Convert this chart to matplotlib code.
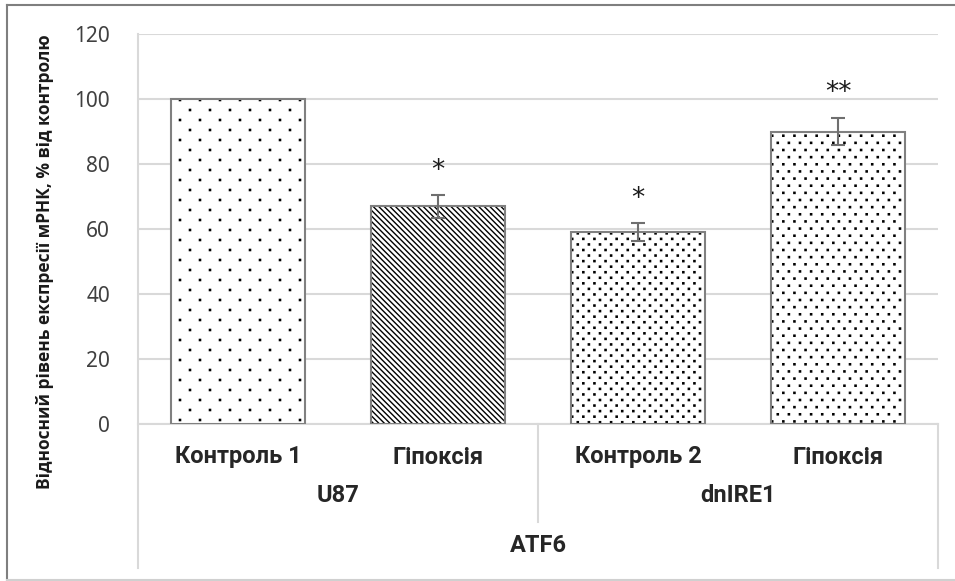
import warnings
warnings.filterwarnings("ignore")
import matplotlib
matplotlib.use("Agg")
import matplotlib.pyplot as plt
from matplotlib import hatch as mhatch
from matplotlib.path import Path
import matplotlib.transforms as mtransforms
import numpy as np

categories = ["Контроль 1", "Гіпоксія", "Контроль 2", "Гіпоксія"]
groups = ["U87", "dnIRE1"]
outer_label = "ATF6"
values = [100, 67, 59, 90]
errors = [0, 3.5, 2.8, 4.3]
stars = ["", "*", "*", "**"]
hatches = ["a", "\\" * 6, "b", "c"]
ylabel = "Відносний рівень експресії мРНК, % від контролю"
yticks = [0, 20, 40, 60, 80, 100, 120]

# custom dotted hatch patterns (columns per unit, rows per unit), Excel-like
DOT_SPECS = {'a': (5, 10), 'b': (9, 18), 'c': (9, 14)}


class LatticeDots(mhatch.HatchPatternBase):
    def __init__(self, hatch, density):
        spec = None
        for ch, sp in DOT_SPECS.items():
            if ch in hatch:
                spec = sp
        self.centers = []
        if spec is not None:
            c, r = spec
            for i in range(r + 1):
                y = i / r
                if i % 2 == 0:
                    xs = [j / c for j in range(c + 1)]
                else:
                    xs = [(j + 0.5) / c for j in range(c)]
                self.centers += [(xx, y) for xx in xs]
        self.num_vertices = len(self.centers) * 5

    def set_vertices_and_codes(self, vertices, codes):
        s = 0.006
        sq = np.array([[-s, -s], [s, -s], [s, s], [-s, s], [-s, -s]])
        k = 0
        for (cx, cy) in self.centers:
            vertices[k:k + 5] = sq + [cx, cy]
            codes[k] = Path.MOVETO
            codes[k + 1:k + 4] = Path.LINETO
            codes[k + 4] = Path.CLOSEPOLY
            k += 5


mhatch._hatch_types.append(LatticeDots)

plt.rcParams['hatch.linewidth'] = 1.0

fig = plt.figure(figsize=(9.55, 5.81), dpi=100)
L, R, T, B = 138, 938, 34, 424
ax = fig.add_axes([L/955, 1-B/581, (R-L)/955, (B-T)/581])

x = np.arange(len(categories))
hb = ax.bar(x, values, width=0.67, facecolor='white', edgecolor='black',
            linewidth=0, zorder=3)
for b, h in zip(hb, hatches):
    b.set_hatch(h)
ax.bar(x, values, width=0.67, fill=False, edgecolor='#808080', linewidth=1.5, zorder=3.5)

for xi, v, e in zip(x, values, errors):
    if e > 0:
        ax.errorbar(xi, v, yerr=e, fmt='none', ecolor='#6f6f6f', elinewidth=1.5,
                    capsize=5, capthick=1.5, zorder=4)
for xi, v, e, s in zip(x, values, errors, stars):
    if s:
        ax.text(xi, v + e + 7.5, s, ha='center', va='center', fontsize=19,
                family='DejaVu Sans', color='#1a1a1a', zorder=5)

ax.set_xlim(-0.5, len(categories) - 0.5)
ax.set_ylim(0, 120)
ax.set_yticks(yticks)
ax.set_yticklabels([str(t) for t in yticks], family='Noto Sans', fontsize=15, color='#404040')
ax.tick_params(axis='y', length=0, pad=20)
ax.set_xticks([])
ax.grid(axis='y', color='#d9d9d9', linewidth=1.5, zorder=0)
for sp in ax.spines.values():
    sp.set_visible(False)

trans = mtransforms.blended_transform_factory(ax.transData, ax.transAxes)
lc = '#d9d9d9'
ybot = -(568 - B) / (B - T)
ysep = -(522 - B) / (B - T)
ax.plot([0, 1], [0, 0], transform=ax.transAxes, color=lc, lw=1.5, clip_on=False, zorder=2)
ax.plot([0, 0], [ybot, 1], transform=ax.transAxes, color=lc, lw=1.5, clip_on=False)
ax.plot([1, 1], [0, ybot], transform=ax.transAxes, color=lc, lw=1.5, clip_on=False)
ax.plot([1.5, 1.5], [0, ysep], transform=trans, color=lc, lw=1.5, clip_on=False)

catfont = dict(family='Roboto', weight='bold', fontsize=17, color='#262626')
for xi, c in zip(x, categories):
    ax.text(xi, -(457 - B) / (B - T), c, transform=trans, ha='center', va='center', **catfont)
for gi, g in enumerate(groups):
    ax.text(gi * 2 + 0.5, -(496 - B) / (B - T), g, transform=trans, ha='center', va='center', **catfont)
ax.text(0.5, -(545 - B) / (B - T), outer_label, transform=ax.transAxes, ha='center', va='center', **catfont)

fig.text(45/955, 1-262/581, ylabel, rotation=90, ha='center', va='center',
         family='Open Sans', weight='bold', fontsize=12.5, color='#1a1a1a')

# outer chart frame
fig.add_artist(plt.Line2D([7/955, 7/955], [1-580/581, 1-5/581], transform=fig.transFigure,
                          color='#7f7f7f', lw=1.5))
fig.add_artist(plt.Line2D([7/955, 1], [1-5/581, 1-5/581], transform=fig.transFigure,
                          color='#7f7f7f', lw=1.5))
fig.add_artist(plt.Line2D([7/955, 1], [1-580/581, 1-580/581], transform=fig.transFigure,
                          color='#d0d0d0', lw=1.5))

fig.savefig("out.png", dpi=100)
